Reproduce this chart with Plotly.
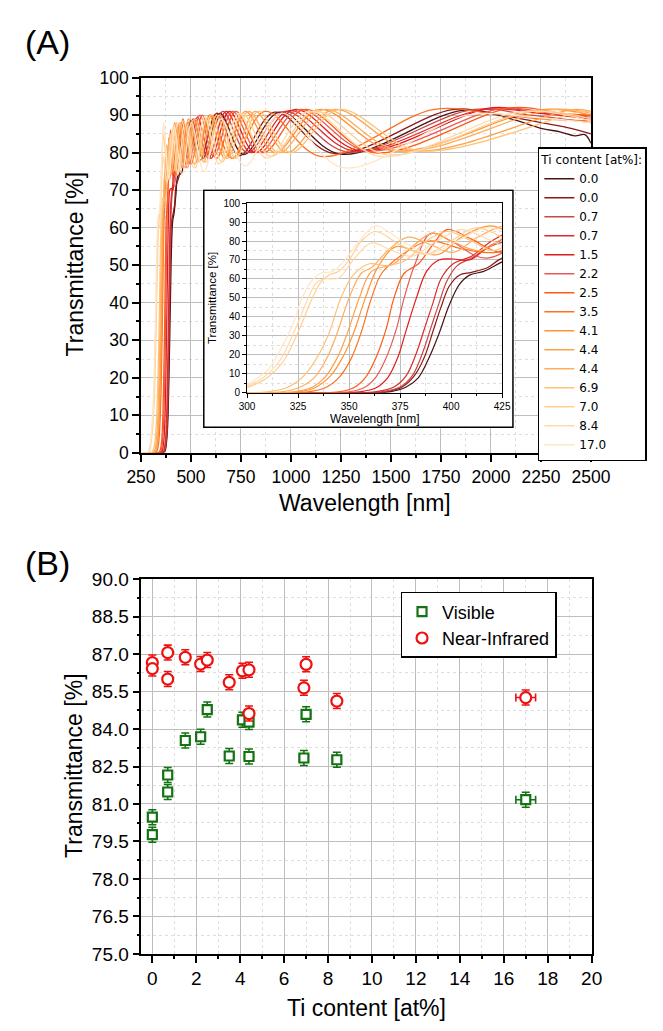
import plotly.graph_objects as go

W, H = 663, 1031

# ---------------- Panel A data: transmittance spectra ----------------
ti_labels = ["0.0", "0.0", "0.7", "0.7", "1.5", "2.2", "2.5", "3.5", "4.1",
             "4.4", "4.4", "6.9", "7.0", "8.4", "17.0"]

wl_1 = [250, 360, 370, 378, 384, 389, 394, 399, 404, 409, 416, 425, 436, 452, 499, 560, 644, 763, 943, 1247, 1859, 2100, 2250, 2350, 2420, 2470, 2500]
tr_1 = [0, 0, 0.5, 3, 8, 18, 31, 46, 57, 62, 64, 69, 74, 74.5, 88.5, 78.5, 90.5, 79.5, 90.8, 79.6, 91.3, 89, 86.5, 85.5, 84.5, 84.8, 82.5]

wl_2 = [250, 358, 368, 376, 382, 387, 391, 395, 399, 404, 410, 418, 425, 442, 487, 546, 628, 743, 919, 1214, 1809, 2050, 2250, 2400, 2500]
tr_2 = [0, 0, 0.5, 3, 9, 19, 32, 45, 56, 62, 63.5, 66, 71, 74, 88, 78, 90.5, 79.2, 90.8, 79.8, 91.5, 90, 88, 86.5, 85]

wl_3 = [250, 356, 366, 375, 381, 386, 390, 394, 398, 403, 410, 424, 461, 510, 574, 659, 782, 968, 1280, 1909, 2200, 2500]
tr_3 = [0, 0, 0.5, 3, 9, 21, 34, 47, 59, 67, 71, 79, 76, 89, 79, 91, 80, 91, 80.2, 91.5, 90, 88]

wl_4 = [250, 353, 363, 372, 378, 383, 387, 391, 395, 401, 410, 420, 433, 472, 522, 587, 676, 801, 992, 1313, 1959, 2250, 2500]
tr_4 = [0, 0, 0.5, 3, 9, 21, 34, 47, 60, 68, 72, 80, 86, 76, 89, 78.5, 91, 80, 91.2, 80.5, 91.5, 90.5, 89]

wl_5 = [250, 345, 355, 363, 369, 374, 378, 383, 388, 394, 401, 409, 420, 442, 482, 533, 600, 692, 821, 1017, 1346, 2008, 2250, 2500]
tr_5 = [0, 0, 0.5, 2.5, 8, 19, 33, 50, 64, 70, 70.5, 70, 78, 87, 76, 89.5, 78.5, 91, 80, 91.5, 80.5, 92, 90.5, 90]

wl_6 = [250, 340, 350, 357, 363, 368, 373, 377, 382, 390, 400, 417, 451, 492, 545, 614, 708, 840, 1041, 1379, 2058, 2300, 2500]
tr_6 = [0, 0, 0.5, 2.5, 8, 18, 33, 50, 67, 84, 80, 71, 88, 77, 90, 79, 91, 80, 91.5, 80.5, 91.8, 90.5, 89.5]

wl_7 = [250, 335, 345, 352, 358, 363, 368, 372, 377, 384, 391, 398, 410, 425, 460, 502, 557, 628, 724, 860, 1066, 1412, 2108, 2350, 2500]
tr_7 = [0, 0, 0.5, 2.5, 8, 18, 33, 50, 63, 68, 78, 86, 81, 74, 89, 77, 90, 78.5, 91, 80, 91.5, 80, 92, 90.5, 90]

wl_8 = [250, 320, 330, 338, 345, 351, 356, 361, 366, 375, 389, 405, 422, 440, 464, 490, 520, 596, 705, 870, 1148, 1710, 2000, 2250, 2500]
tr_8 = [0, 0, 0.5, 2.5, 8, 18, 32, 50, 63, 72, 80, 76, 74, 82, 88, 80, 77, 90, 78.5, 91, 79, 91.5, 90.5, 89, 88.5]

wl_9 = [250, 315, 325, 333, 341, 347, 352, 358, 364, 373, 384, 394, 405, 419, 434, 450, 487, 533, 592, 669, 772, 919, 1140, 1511, 2257, 2500]
tr_9 = [0, 0, 0.5, 2.5, 9, 19, 31, 50, 66, 77, 74, 73, 82, 88, 82, 76, 89, 77.5, 90, 78.5, 91, 80, 91.5, 80.5, 91.5, 90]

wl_10 = [250, 313, 323, 331, 338, 344, 349, 355, 361, 372, 382, 391, 402, 414, 428, 442, 474, 515, 564, 628, 710, 821, 977, 1214, 1610, 2407, 2500]
tr_10 = [0, 0, 0.5, 2.5, 8, 18, 31, 50, 64, 68, 78, 84, 79, 75, 83, 88, 76, 89, 77.5, 90, 78.5, 91, 80, 91.5, 80.5, 91.5, 91]

wl_11 = [250, 307, 317, 325, 333, 339, 344, 350, 356, 361, 370, 379, 390, 401, 413, 427, 442, 458, 496, 544, 604, 682, 788, 938, 1164, 1544, 2307, 2500]
tr_11 = [0, 0, 0.5, 2.5, 8, 18, 31, 50, 63, 66, 76, 82, 78, 74, 82, 88, 82, 76, 89, 77.5, 90, 78.5, 91, 80, 91.5, 80.5, 91.5, 90.5]

wl_12 = [250, 300, 310, 319, 327, 334, 340, 346, 352, 360, 368, 378, 388, 398, 410, 421, 435, 449, 465, 483, 524, 575, 640, 724, 837, 997, 1239, 1643, 2457, 2500]
tr_12 = [0, 0, 0.5, 2.5, 8, 18, 31, 50, 62, 68, 67, 70, 80, 85, 80, 75, 83, 88, 82, 76, 89, 77.5, 90, 78.5, 91, 80, 91.5, 80.5, 91, 90.8]

wl_13 = [250, 285, 295, 303, 310, 318, 325, 332, 336, 340, 345, 350, 356, 363, 375, 388, 400, 412, 427, 442, 478, 523, 580, 655, 756, 899, 1115, 1478, 2208, 2500]
tr_13 = [0, 0, 1, 4, 8, 17, 32, 50, 58, 62, 64, 70, 80, 85, 78, 73, 80, 87, 81, 75, 88, 76, 89.5, 77.5, 90.5, 79, 91, 79.5, 91, 89]

wl_14 = [250, 283, 293, 301, 308, 316, 323, 330, 334, 338, 345, 352, 361, 371, 381, 393, 405, 420, 434, 469, 513, 568, 641, 740, 879, 1090, 1445, 2158, 2500]
tr_14 = [0, 0, 1, 4, 8, 17, 32, 50, 58, 60, 60.5, 70, 79, 75, 72, 80, 86, 80, 74, 88, 76, 89.5, 77, 90.5, 78.5, 91, 79, 91, 88.5]

wl_15 = [250, 280, 290, 298, 304, 310, 316, 322, 327, 331, 336, 342, 348, 355, 363, 376, 389, 403, 418, 436, 456, 503, 565, 650, 770, 953, 1260, 1879, 2200, 2500]
tr_15 = [0, 0, 1, 3, 7, 12, 22, 35, 50, 58, 63, 64, 70, 80, 88, 80, 73, 80, 87, 80, 74, 88, 75, 89, 76.5, 90.5, 76, 90, 89.5, 88]

spectra_wl = [wl_1, wl_2, wl_3, wl_4, wl_5, wl_6, wl_7, wl_8, wl_9, wl_10, wl_11, wl_12, wl_13, wl_14, wl_15]
spectra_tr = [tr_1, tr_2, tr_3, tr_4, tr_5, tr_6, tr_7, tr_8, tr_9, tr_10, tr_11, tr_12, tr_13, tr_14, tr_15]

line_colors = ["#4a1414", "#8c1a1a", "#c94848", "#dd2a2a", "#e31a1a", "#e85a5a",
               "#ff5a14", "#ff7020", "#ff9438", "#ffa24a", "#ffae5e", "#ffc27a",
               "#ffcf92", "#ffd9a8", "#ffe6c6"]

inset_yticks = [0, 10, 20, 30, 40, 50, 60, 70, 80, 90, 100]

# ---------------- Panel B data ----------------
vis_ti = [0.0, 0.0, 0.7, 0.7, 1.5, 2.2, 2.5, 3.5, 4.1, 4.4, 4.4, 6.9, 7.0, 8.4, 17.0]
vis_t = [79.77, 80.47, 82.16, 81.48, 83.54, 83.69, 84.78, 82.92, 84.37, 84.28, 82.90, 82.84, 84.59, 82.77, 81.17]
nir_ti = [0.0, 0.0, 0.7, 0.7, 1.5, 2.2, 2.5, 3.5, 4.1, 4.4, 4.4, 6.9, 7.0, 8.4, 17.0]
nir_t = [86.66, 86.42, 87.06, 86.00, 86.87, 86.60, 86.76, 85.87, 86.33, 86.37, 84.62, 85.65, 86.59, 85.12, 85.26]
t_err = [0.3] * 15
ti_err = [0.2, 0.2, 0.2, 0.2, 0.2, 0.2, 0.2, 0.2, 0.2, 0.2, 0.2, 0.2, 0.2, 0.2, 0.45]


def fx(x):
    return x / W


def fy(y):
    return 1 - y / H


FONT = "Liberation Sans, Arial, sans-serif"
GREEN = "#137313"
RED = "#ee1111"
fig = go.Figure()

for i in range(len(ti_labels)):
    fig.add_trace(go.Scatter(
        x=spectra_wl[i], y=spectra_tr[i], mode="lines", name=ti_labels[i],
        line=dict(color=line_colors[i], width=1.3, shape="spline", smoothing=1.0),
        xaxis="x", yaxis="y", legend="legend"))

for i in range(len(ti_labels)):
    fig.add_trace(go.Scatter(
        x=spectra_wl[i], y=spectra_tr[i], mode="lines", name=ti_labels[i],
        line=dict(color=line_colors[i], width=1.2, shape="spline", smoothing=1.0),
        xaxis="x3", yaxis="y3", showlegend=False))

fig.add_trace(go.Scatter(
    x=vis_ti, y=vis_t, mode="markers", name="Visible",
    marker=dict(symbol="square", size=9, color="white", line=dict(width=2.2, color=GREEN)),
    error_y=dict(type="data", array=t_err, color=GREEN, thickness=1.6, width=4),
    error_x=dict(type="data", array=ti_err, color=GREEN, thickness=1.6, width=4),
    xaxis="x4", yaxis="y4", legend="legend2"))

fig.add_trace(go.Scatter(
    x=nir_ti, y=nir_t, mode="markers", name="Near-Infrared",
    marker=dict(symbol="circle", size=11, color="white", line=dict(width=2.2, color=RED)),
    error_y=dict(type="data", array=t_err, color=RED, thickness=1.6, width=4),
    error_x=dict(type="data", array=ti_err, color=RED, thickness=1.6, width=4),
    xaxis="x4", yaxis="y4", legend="legend2"))

major_grid = "#bdbdbd"
minor_grid = "#dedede"


def axis_style(size, ticklen=7, minor_dtick=None, lw=1.5):
    d = dict(showline=True, mirror=True, linecolor="black", linewidth=lw,
             ticks="outside", ticklen=ticklen, tickwidth=lw, tickcolor="black",
             showgrid=True, gridcolor=major_grid, gridwidth=1, zeroline=False,
             tickfont=dict(family=FONT, size=size, color="black"))
    if minor_dtick is not None:
        d["minor"] = dict(dtick=minor_dtick, ticks="outside", ticklen=max(2, ticklen // 2),
                          tickwidth=lw, tickcolor="black", showgrid=True,
                          gridcolor=minor_grid, griddash="dot", gridwidth=1)
    return d


fig.update_layout(
    width=W, height=H, margin=dict(l=0, r=0, t=0, b=0),
    paper_bgcolor="white", plot_bgcolor="white",
    xaxis=dict(domain=[fx(133), fx(608)], range=[250, 2500], tick0=250, dtick=250,
               anchor="y", **axis_style(17.5, 7, 125)),
    yaxis=dict(domain=[fy(452), fy(69)], range=[0, 100.01], dtick=10,
               anchor="x", **axis_style(17.5, 7, 5)),
    xaxis2=dict(domain=[fx(198), fx(527)], range=[-0.004, 1.004], visible=False,
                anchor="y2", fixedrange=True),
    yaxis2=dict(domain=[fy(427), fy(183)], range=[-0.004, 1.004], visible=False,
                anchor="x2", fixedrange=True),
    xaxis3=dict(domain=[fx(245), fx(514.3)], range=[300, 425.01], tick0=300, dtick=25,
                anchor="y3", **axis_style(10, 4, 12.5, lw=1)),
    yaxis3=dict(domain=[fy(390.7), fy(196.7)], range=[0, 100.2], tickmode="array",
                tickvals=inset_yticks, ticktext=[str(v) for v in inset_yticks],
                anchor="x3", **axis_style(10, 4, 5, lw=1)),
    xaxis4=dict(domain=[fx(133.4), fx(609)], range=[-0.5, 20.01], tick0=0, dtick=2,
                anchor="y4", **axis_style(19, 7, 1)),
    yaxis4=dict(domain=[fy(963.5), fy(580.7)], range=[75, 90.01], tick0=75, dtick=1.5,
                tickformat=".1f", anchor="x4", **axis_style(19, 7, 0.75)),
    legend=dict(x=fx(552), y=fy(140), xanchor="left", yanchor="top",
                bgcolor="white", bordercolor="black", borderwidth=1.5,
                font=dict(family="DejaVu Sans", size=12, color="black"),
                title=dict(text="Ti content [at%]:",
                           font=dict(family="DejaVu Sans", size=12, color="black")),
                itemwidth=30, tracegroupgap=0),
    legend2=dict(x=fx(407), y=fy(594), xanchor="left", yanchor="top",
                 bgcolor="white", bordercolor="black", borderwidth=1.5,
                 font=dict(family=FONT, size=18, color="black"), itemwidth=30),
    shapes=[dict(type="rect", xref="x2", yref="y2", x0=0, x1=1, y0=0, y1=1,
                 fillcolor="white", line=dict(color="black", width=1.5), layer="below")],
)


def text(x, y, s, size, angle=0):
    return dict(x=fx(x), y=fy(y), xref="paper", yref="paper", text=s, showarrow=False,
                textangle=angle, xanchor="center", yanchor="middle",
                font=dict(family=FONT, size=size, color="black"))


fig.update_layout(annotations=[
    text(34, 33, "(A)", 34),
    text(34, 565, "(B)", 34),
    text(63, 260, "Transmittance [%]", 23, -90),
    text(370, 503, "Wavelength [nm]", 23),
    text(208, 294, "Transmittance [%]", 11.5, -90),
    text(380, 418, "Wavelength [nm]", 12),
    text(63, 772, "Transmittance [%]", 23, -90),
    text(371, 1019, "Ti content [at%]", 23),
])

fig.write_html("out.html")
